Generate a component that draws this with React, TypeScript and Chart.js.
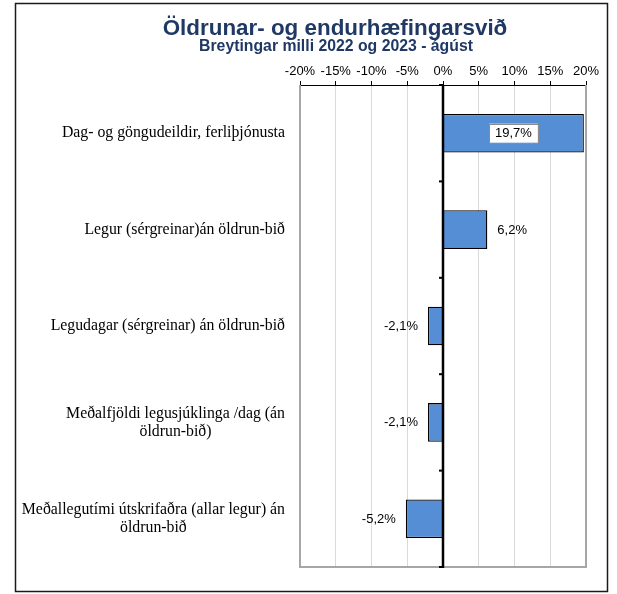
import React, { useEffect, useRef } from "react";
import { Chart, registerables } from "chart.js";

Chart.register(...registerables);

const TITLE = "Öldrunar- og endurhæfingarsvið";
const SUBTITLE = "Breytingar milli 2022 og 2023 - ágúst";

const categories: string[][] = [
  ["Dag- og göngudeildir, ferliþjónusta"],
  ["Legur (sérgreinar)án öldrun-bið"],
  ["Legudagar (sérgreinar) án öldrun-bið"],
  ["Meðalfjöldi legusjúklinga /dag (án", "öldrun-bið)"],
  ["Meðallegutími útskrifaðra (allar legur) án", "öldrun-bið"],
];

const changes: number[] = [19.7, 6.2, -2.1, -2.1, -5.2];

const axisMin = -20;
const axisMax = 20;
const axisStep = 5;

const fmt = (v: number) => v.toFixed(1).replace(".", ",") + "%";

const SANS = "'Liberation Sans', Arial, sans-serif";
const SERIF = "'Liberation Serif', 'Times New Roman', serif";

const customPlugin = {
  id: "custom",
  beforeDraw(chart: any) {
    const { ctx, width, height } = chart;
    ctx.save();
    ctx.fillStyle = "#ffffff";
    ctx.fillRect(0, 0, width, height);
    ctx.restore();
  },
  afterDraw(chart: any) {
    const { ctx, chartArea, scales } = chart;
    const { left, right, top, bottom } = chartArea;
    const x = scales.x;
    const y = scales.y;
    ctx.save();

    // outer frame
    ctx.strokeStyle = "#1a1a1a";
    ctx.lineWidth = 1.5;
    ctx.strokeRect(15.5, 3.5, 592, 588);

    // plot border (left, right, bottom) gray
    ctx.strokeStyle = "#a6a6a6";
    ctx.lineWidth = 2;
    ctx.beginPath();
    ctx.moveTo(left, top);
    ctx.lineTo(left, bottom);
    ctx.lineTo(right, bottom);
    ctx.lineTo(right, top);
    ctx.stroke();

    // zero line
    const x0 = x.getPixelForValue(0);
    ctx.strokeStyle = "#000000";
    ctx.lineWidth = 2.5;
    ctx.beginPath();
    ctx.moveTo(x0, top);
    ctx.lineTo(x0, bottom + 1);
    ctx.stroke();

    // category boundary ticks
    const n = categories.length;
    const rowH = (bottom - top) / n;
    ctx.lineWidth = 2;
    for (let i = 0; i <= n; i++) {
      const yy = top + i * rowH;
      ctx.beginPath();
      ctx.moveTo(x0 - 4, yy);
      ctx.lineTo(x0, yy);
      ctx.stroke();
    }

    // category labels (block right-aligned, lines centered)
    ctx.font = `15.8px ${SERIF}`;
    ctx.fillStyle = "#000000";
    ctx.textBaseline = "middle";
    ctx.textAlign = "center";
    const labelRight = left - 15;
    const lineH = 18;
    categories.forEach((lines, i) => {
      const cy = y.getPixelForValue(i);
      const w = Math.max(...lines.map((l) => ctx.measureText(l).width));
      const cx = labelRight - w / 2;
      const y0 = cy - ((lines.length - 1) * lineH) / 2;
      lines.forEach((l, j) => {
        ctx.fillText(l, cx, y0 + j * lineH);
      });
    });

    // value labels
    ctx.font = `13px ${SANS}`;
    changes.forEach((v, i) => {
      const cy = y.getPixelForValue(i);
      const xe = x.getPixelForValue(v);
      const txt = fmt(v);
      if (Math.abs(v) > 10) {
        const cx = (x0 + xe) / 2;
        const tw = ctx.measureText(txt).width;
        const bw = tw + 12;
        const bh = 19;
        ctx.fillStyle = "#ffffff";
        ctx.fillRect(cx - bw / 2, cy - bh / 2, bw, bh);
        ctx.strokeStyle = "#8c8c8c";
        ctx.lineWidth = 1;
        ctx.strokeRect(Math.round(cx - bw / 2) + 0.5, Math.round(cy - bh / 2) + 0.5, Math.round(bw), bh);
        ctx.fillStyle = "#000000";
        ctx.textAlign = "center";
        ctx.fillText(txt, cx, cy + 0.5);
      } else if (v >= 0) {
        ctx.fillStyle = "#000000";
        ctx.textAlign = "left";
        ctx.fillText(txt, xe + 10, cy + 0.5);
      } else {
        ctx.fillStyle = "#000000";
        ctx.textAlign = "right";
        ctx.fillText(txt, xe - 10, cy + 0.5);
      }
    });

    // titles
    ctx.fillStyle = "#1f3864";
    ctx.textAlign = "center";
    ctx.textBaseline = "alphabetic";
    ctx.font = `bold 22.4px ${SANS}`;
    ctx.fillText(TITLE, 335, 35);
    ctx.font = `bold 15.8px ${SANS}`;
    ctx.fillText(SUBTITLE, 336, 51);

    ctx.restore();
  },
};

export default function App() {
  const canvasRef = useRef<HTMLCanvasElement | null>(null);

  useEffect(() => {
    if (!canvasRef.current) return;
    const chart = new Chart(canvasRef.current, {
      type: "bar",
      data: {
        labels: categories.map((c) => c.join(" ")),
        datasets: [
          {
            data: changes,
            backgroundColor: "#558ed5",
            borderColor: "#000000",
            borderWidth: 1.3,
            barPercentage: 0.4,
            categoryPercentage: 1,
          },
        ],
      },
      options: {
        indexAxis: "y",
        animation: false,
        responsive: true,
        maintainAspectRatio: false,
        layout: { padding: { left: 300, right: 31, top: 57, bottom: 27 } },
        plugins: {
          legend: { display: false },
          title: { display: false },
          tooltip: { enabled: false },
        },
        scales: {
          x: {
            type: "linear",
            position: "top",
            min: axisMin,
            max: axisMax,
            ticks: {
              stepSize: axisStep,
              callback: (v: any) => v + "%",
              font: { size: 13, family: SANS },
              color: "#000000",
              padding: 2,
              maxRotation: 0,
            },
            grid: {
              color: (c: any) => (c.tick && c.tick.value === 0 ? "rgba(0,0,0,0)" : "#d9d9d9"),
              tickColor: "#000000",
              tickLength: 4,
              lineWidth: 1,
            },
            border: { color: "#000000", width: 1 },
            afterFit: (scale: any) => {
              scale.height = 28;
            },
          },
          y: {
            type: "category",
            display: false,
          },
        },
      } as any,
      plugins: [customPlugin],
    });
    return () => chart.destroy();
  }, []);

  return (
    <div style={{ position: "fixed", left: 0, top: 0, width: 617, height: 594 }}>
      <canvas ref={canvasRef} />
    </div>
  );
}
